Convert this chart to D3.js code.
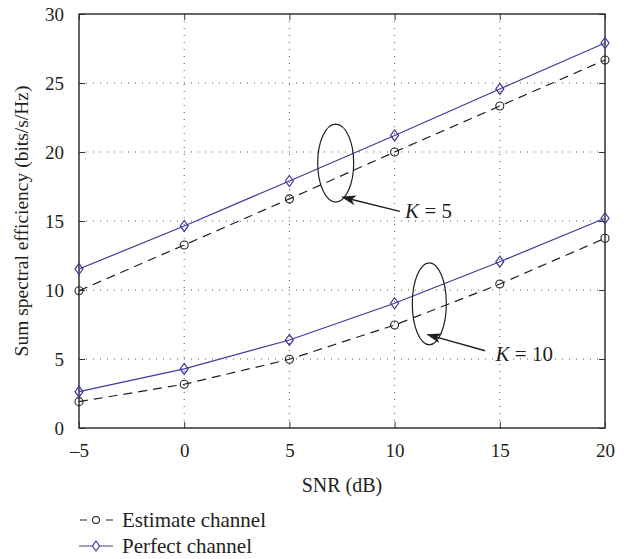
<!DOCTYPE html>
<html>
<head>
<meta charset="utf-8">
<script src="https://cdn.jsdelivr.net/npm/d3@7"></script>
<style>
  body { margin: 0; background: #fff; }
  svg text { font-family: "Liberation Serif", "Times New Roman", serif; fill: #231f20; }
</style>
</head>
<body>
<div id="chart"></div>
<script>
var snr = [-5, 0, 5, 10, 15, 20];
var perfectK5 = [11.52, 14.64, 17.9, 21.2, 24.57, 27.9];
var estimateK5 = [9.95, 13.26, 16.6, 20.0, 23.33, 26.67];
var perfectK10 = [2.63, 4.28, 6.38, 9.04, 12.05, 15.2];
var estimateK10 = [1.91, 3.17, 4.98, 7.46, 10.43, 13.75];
var xTicks = [-5, 0, 5, 10, 15, 20];
var yTicks = [0, 5, 10, 15, 20, 25, 30];

var width = 627, height = 559;
var margin = {left: 79, top: 14, right: 22, bottom: 131};
var blue = "#3d3a9c", black = "#231f20";
var serif = '"Liberation Serif", "Times New Roman", serif';

var svg = d3.select("#chart").append("svg")
  .attr("width", width).attr("height", height);

var x = d3.scaleLinear().domain([-5, 20]).range([margin.left, width - margin.right]);
var y = d3.scaleLinear().domain([0, 30]).range([height - margin.bottom, margin.top]);

// grid
var grid = svg.append("g").attr("class", "grid");
grid.selectAll(".gx").data(xTicks.slice(1, -1)).enter().append("line")
  .attr("x1", function(d) { return x(d); }).attr("x2", function(d) { return x(d); })
  .attr("y1", y(0)).attr("y2", y(30))
  .attr("stroke", "#555").attr("stroke-width", 1).attr("stroke-dasharray", "1,6");
grid.selectAll(".gy").data(yTicks.slice(1, -1)).enter().append("line")
  .attr("y1", function(d) { return y(d); }).attr("y2", function(d) { return y(d); })
  .attr("x1", x(-5)).attr("x2", x(20))
  .attr("stroke", "#555").attr("stroke-width", 1).attr("stroke-dasharray", "1,6");

// axes, ticks inward on all four sides
function axisGroup(axis, tx, ty, labels) {
  var g = svg.append("g").attr("transform", "translate(" + tx + "," + ty + ")").call(axis);
  g.attr("font-family", serif).attr("font-size", 19);
  g.select(".domain").remove();
  g.selectAll("line").attr("stroke", "#333");
  g.selectAll("text").attr("fill", black);
  if (!labels) g.selectAll("text").remove();
  return g;
}
var fmt = function(d) { return d < 0 ? "\u2013" + Math.abs(d) : d; };
axisGroup(d3.axisBottom(x).tickValues(xTicks).tickSizeInner(-6).tickPadding(16).tickFormat(fmt), 0, y(0), true);
axisGroup(d3.axisTop(x).tickValues(xTicks).tickSizeInner(-6).tickFormat(""), 0, y(30), false);
axisGroup(d3.axisLeft(y).tickValues(yTicks).tickSizeInner(-6).tickPadding(15), x(-5), 0, true);
axisGroup(d3.axisRight(y).tickValues(yTicks).tickSizeInner(-6).tickFormat(""), x(20), 0, false);

svg.append("rect")
  .attr("x", x(-5)).attr("y", y(30))
  .attr("width", x(20) - x(-5)).attr("height", y(0) - y(30))
  .attr("fill", "none").attr("stroke", "#333").attr("stroke-width", 1.5);

// series
var line = d3.line().x(function(d) { return x(d[0]); }).y(function(d) { return y(d[1]); });
function zip(vals) { return snr.map(function(s, i) { return [s, vals[i]]; }); }

function drawEstimate(vals) {
  var pts = zip(vals);
  svg.append("path").datum(pts).attr("d", line)
    .attr("fill", "none").attr("stroke", black).attr("stroke-width", 1.2)
    .attr("stroke-dasharray", "9,6");
  svg.selectAll(null).data(pts).enter().append("circle")
    .attr("cx", function(d) { return x(d[0]); }).attr("cy", function(d) { return y(d[1]); })
    .attr("r", 4).attr("fill", "none").attr("stroke", black).attr("stroke-width", 1.1);
}
var diamond = "M0,-5.5L4,0L0,5.5L-4,0Z";
function drawPerfect(vals) {
  var pts = zip(vals);
  svg.append("path").datum(pts).attr("d", line)
    .attr("fill", "none").attr("stroke", blue).attr("stroke-width", 1.2);
  svg.selectAll(null).data(pts).enter().append("path")
    .attr("d", diamond)
    .attr("transform", function(d) { return "translate(" + x(d[0]) + "," + y(d[1]) + ")"; })
    .attr("fill", "none").attr("stroke", blue).attr("stroke-width", 1.2);
}
drawEstimate(estimateK5);
drawPerfect(perfectK5);
drawEstimate(estimateK10);
drawPerfect(perfectK10);

// annotations
function annotate(cx, cy, rx, ry, x1, y1, x2, y2, label, lx, ly) {
  svg.append("ellipse")
    .attr("cx", x(cx)).attr("cy", y(cy)).attr("rx", rx).attr("ry", ry)
    .attr("fill", "none").attr("stroke", black).attr("stroke-width", 1.2);
  var px1 = x(x1), py1 = y(y1), px2 = x(x2), py2 = y(y2);
  var ang = Math.atan2(py2 - py1, px2 - px1) * 180 / Math.PI;
  svg.append("line")
    .attr("x1", px1 + 8 * Math.cos(ang * Math.PI / 180)).attr("y1", py1 + 8 * Math.sin(ang * Math.PI / 180))
    .attr("x2", px2).attr("y2", py2)
    .attr("stroke", black).attr("stroke-width", 1.4);
  svg.append("path")
    .attr("d", "M0,0L15,-5L11,0L15,5Z")
    .attr("transform", "translate(" + px1 + "," + py1 + ") rotate(" + ang + ")")
    .attr("fill", black);
  var t = svg.append("text").attr("x", x(lx)).attr("y", y(ly))
    .attr("font-family", serif).attr("font-size", 21);
  t.append("tspan").attr("font-style", "italic").text("K");
  t.append("tspan").text(" = " + label);
}
annotate(7.2, 19.2, 18, 39, 7.45, 16.75, 10.25, 15.7, "5", 10.5, 15.25);
annotate(11.65, 9.0, 17, 41, 11.5, 6.8, 14.3, 5.6, "10", 14.8, 4.85);

// axis titles
svg.append("text")
  .attr("x", (x(-5) + x(20)) / 2).attr("y", 492)
  .attr("text-anchor", "middle").attr("font-family", serif).attr("font-size", 20)
  .text("SNR (dB)");
svg.append("text")
  .attr("transform", "translate(28," + ((y(0) + y(30)) / 2) + ") rotate(-90)")
  .attr("text-anchor", "middle").attr("font-family", serif).attr("font-size", 19.5)
  .text("Sum spectral efficiency (bits/s/Hz)");

// legend
var legend = svg.append("g").attr("font-family", serif).attr("font-size", 21);
legend.append("line").attr("x1", 79).attr("x2", 113).attr("y1", 520).attr("y2", 520)
  .attr("stroke", black).attr("stroke-width", 1.2).attr("stroke-dasharray", "7,6").attr("stroke-dashoffset", -1);
legend.append("circle").attr("cx", 96).attr("cy", 520).attr("r", 3.5)
  .attr("fill", "#fff").attr("stroke", black).attr("stroke-width", 1.1);
legend.append("text").attr("x", 122).attr("y", 527).text("Estimate channel");
legend.append("line").attr("x1", 79).attr("x2", 113).attr("y1", 546).attr("y2", 546)
  .attr("stroke", blue).attr("stroke-width", 1.2);
legend.append("path").attr("d", "M0,-5L3.5,0L0,5L-3.5,0Z").attr("transform", "translate(96,546)")
  .attr("fill", "#fff").attr("stroke", blue).attr("stroke-width", 1.2);
legend.append("text").attr("x", 122).attr("y", 553).text("Perfect channel");
</script>
</body>
</html>
